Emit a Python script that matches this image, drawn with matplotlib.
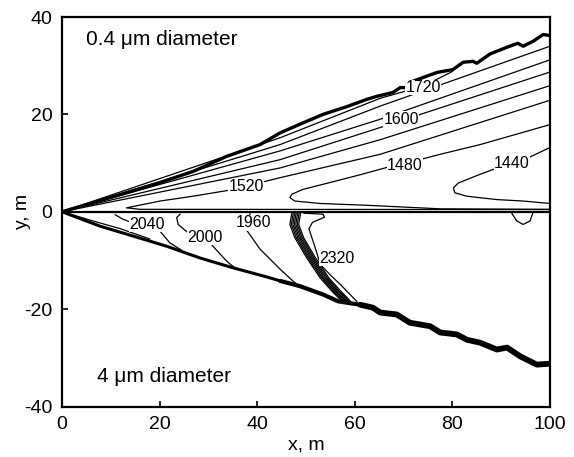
import numpy as np
import matplotlib.pyplot as plt
import matplotlib as mpl

mpl.rcParams['font.family'] = ['Liberation Sans', 'DejaVu Sans']
mpl.rcParams['axes.unicode_minus'] = False  # 负号用普通连字符

# 上半部分 0.4 um 粒子：边界与等值线 (x, y), 单位 m
top_edge_x = [0, 13.2, 20.1, 26.9, 33.8, 40.6, 44.7, 48.8, 53.5, 58.4, 62.5, 64.5, 67.8, 69.3, 70.7,
              71.9, 76.8, 80.1, 82.2, 84.2, 85.0, 87.7, 91.2, 93.4, 94.5, 96.5, 98.6, 100]
top_edge_y = [0, 3.9, 6.0, 8.3, 11.4, 13.8, 16.2, 18.0, 20.0, 21.6, 23.1, 23.7, 24.5, 25.5, 25.5,
              26.8, 28.6, 29.2, 30.7, 30.9, 30.5, 32.4, 33.8, 34.6, 34.0, 35.0, 36.4, 36.2]

c1720_x = [0, 44.7, 65.2, 74.0, 80.0]
c1720_y = [0, 15.2, 23.3, 25.8, 28.8]
c1680_x = [0, 44.7, 65.2, 100]
c1680_y = [0, 13.8, 21.7, 34.0]
c1640_x = [0, 44.7, 65.2, 100]
c1640_y = [0, 12.5, 19.0, 31.2]
c1600_x = [0, 44.7, 65.2, 100]
c1600_y = [0, 10.7, 17.3, 28.7]
c1560_x = [0, 44.7, 65.2, 100]
c1560_y = [0, 9.0, 14.8, 25.9]
c1520_x = [100, 65.2, 44.7, 41.9, 34.1, 26.9, 20.1, 13.2, 16.0, 100]
c1520_y = [22.9, 11.8, 7.0, 6.3, 4.4, 3.2, 2.2, 0.8, 0.5, 0.45]
c1480_x = [100, 85.7, 77.5, 73.7, 66.2, 61.1, 54.9, 49.4, 47.1, 46.7, 47.7, 52.9, 63.1, 77.5, 100]
c1480_y = [17.9, 13.8, 11.8, 10.8, 9.0, 7.6, 6.0, 4.6, 3.6, 2.9, 2.2, 1.7, 1.3, 0.6, 0.5]
c1440_x = [100, 95.6, 88.4, 85.7, 81.2, 80.2, 80.5, 82.9, 89.1, 94.5, 100]
c1440_y = [13.2, 11.1, 8.7, 7.7, 5.9, 4.9, 3.9, 3.2, 2.5, 2.2, 1.7]

# 下半部分 4 um 粒子
bot_edge_x = [0, 7.8, 14.6, 21.5, 28.3, 35.0, 42.0, 44.7, 48.8, 53.5, 56.6, 61.1, 63.7, 65.2, 68.6,
              71.3, 75.4, 77.5, 80.9, 83.0, 85.7, 89.1, 91.2, 93.9, 97.3, 100]
bot_edge_y = [0, -2.96, -5.0, -7.1, -9.5, -11.5, -13.4, -14.2, -15.3, -17.0, -18.4, -19.1, -19.7, -20.7, -21.1,
              -22.8, -23.5, -24.8, -25.2, -26.3, -26.9, -28.3, -27.9, -29.7, -31.4, -31.2]
inner_x = [0, 6.4, 12.0, 18.0]
inner_y = [0, -1.9, -3.5, -5.6]

c2040_x = [10.9, 12.4, 14.5, 20.1, 22.1, 24.5]
c2040_y = [-0.6, -1.5, -2.3, -4.0, -6.4, -7.9]
c2000_x = [24.2, 23.5, 23.8, 25.8, 30.5, 33.8, 35.5]
c2000_y = [-0.5, -1.2, -2.6, -4.3, -6.6, -10.2, -11.6]
c1960_x = [38.5, 38.4, 37.5, 40.6, 44.7, 47.4, 48.6]
c1960_y = [-0.4, -2.0, -3.3, -7.7, -11.8, -14.3, -15.2]
band_x = [47.1, 46.7, 47.7, 50.1, 52.9, 55.3, 56.6, 57.5]
band_y = [-0.2, -2.6, -5.3, -9.4, -13.6, -16.3, -17.6, -18.6]
band_dx = [0.0, 0.3, 0.6, 0.9, 1.2, 1.5, 1.8]
c2320_x = [49.6, 53.5, 53.8, 51.3, 50.6, 51.2, 52.2, 52.9, 55.2, 57.0, 60.4]
c2320_y = [-0.3, -0.5, -1.1, -2.2, -3.5, -5.3, -8.4, -10.8, -13.2, -14.9, -18.4]
dip_x = [92.1, 93.2, 94.5, 95.9, 96.5]
dip_y = [-0.2, -1.9, -2.6, -1.9, -0.2]

labels = ['1720', '1600', '1480', '1440', '1520', '2040', '2000', '1960', '2320']
label_x = [74.0, 69.5, 70.3, 92.2, 37.8, 17.5, 29.3, 39.2, 56.3]
label_y = [25.5, 19.0, 9.4, 10.0, 5.1, -2.6, -5.3, -2.3, -9.5]

fig = plt.figure(figsize=(5.74, 4.57), dpi=100)
ax = fig.add_axes([62 / 574, 1 - 406.5 / 457, 488 / 574, 389.5 / 457])

k = dict(color='black', lw=0.9, solid_joinstyle='round')
ax.plot(top_edge_x, top_edge_y, color='black', lw=2.4, solid_joinstyle='round')
for xs, ys in [(c1720_x, c1720_y), (c1680_x, c1680_y), (c1640_x, c1640_y), (c1600_x, c1600_y),
               (c1560_x, c1560_y), (c1520_x, c1520_y), (c1480_x, c1480_y), (c1440_x, c1440_y)]:
    ax.plot(xs, ys, **k)

ax.plot([0, 100], [0, 0], color='black', lw=1.6)

# 下边界：越往右越粗
bx = np.array(bot_edge_x)
by = np.array(bot_edge_y)
ax.plot(bx[bx <= 45], by[bx <= 45], color='black', lw=2.2, solid_joinstyle='round', solid_capstyle='round')
ax.plot(bx[(bx >= 44) & (bx <= 62)], by[(bx >= 44) & (bx <= 62)], color='black', lw=3.0,
        solid_joinstyle='round', solid_capstyle='round')
ax.plot(bx[bx >= 61], by[bx >= 61], color='black', lw=4.2, solid_joinstyle='round', solid_capstyle='round')
ax.plot(inner_x, inner_y, **k)
for xs, ys in [(c2040_x, c2040_y), (c2000_x, c2000_y), (c1960_x, c1960_y), (c2320_x, c2320_y), (dip_x, dip_y)]:
    ax.plot(xs, ys, **k)
for d in band_dx:
    ax.plot(np.array(band_x) + d, band_y, color='black', lw=0.9)

for s, x, y in zip(labels, label_x, label_y):
    ax.text(x, y, s, fontsize=11.5, ha='center', va='center',
            bbox=dict(facecolor='white', edgecolor='none', pad=0.2))

ax.text(4.9, 35.3, '0.4 \u03bcm diameter', fontsize=15, va='center')
ax.text(7.2, -33.9, '4 \u03bcm diameter', fontsize=15, va='center')

ax.set_xlim(0, 100)
ax.set_ylim(-40, 40)
ax.set_xticks([0, 20, 40, 60, 80, 100])
ax.set_yticks([-40, -20, 0, 20, 40])
ax.tick_params(direction='in', length=4, width=1.2, labelsize=14, pad=7)
for sp in ax.spines.values():
    sp.set_linewidth(1.6)
ax.set_xlabel('x, m', fontsize=14, labelpad=2)
ax.set_ylabel('y, m', fontsize=14, labelpad=-5)

fig.savefig('out.png', dpi=100)
